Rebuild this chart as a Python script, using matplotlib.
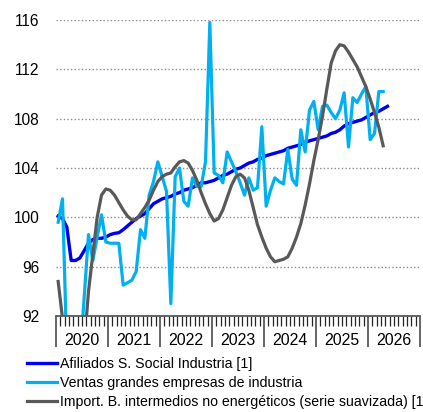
import numpy as np
import matplotlib.pyplot as plt
from matplotlib.transforms import blended_transform_factory

plt.rcParams['font.family'] = ['Liberation Sans', 'DejaVu Sans']

# monthly series, starting January 2020
afiliados = [100.1, 99.9, 99.2, 96.5, 96.5, 96.7, 97.3, 97.9, 98.2, 98.3, 98.3, 98.4,
             98.6, 98.7, 98.75, 99.0, 99.3, 99.6, 99.9, 100.1, 100.3, 100.7, 101.1, 101.3,
             101.5, 101.6, 101.7, 101.9, 102.0, 102.2, 102.3, 102.4, 102.6, 102.8, 102.8, 102.9,
             103.0, 103.2, 103.4, 103.5, 103.7, 103.9, 104.0, 104.2, 104.4, 104.5, 104.7, 104.8,
             105.0, 105.1, 105.2, 105.3, 105.4, 105.6, 105.7, 105.8, 105.9, 106.1, 106.2, 106.3,
             106.4, 106.5, 106.6, 106.8, 106.9, 107.1, 107.4, 107.6, 107.7, 107.8, 107.9, 108.1,
             108.3, 108.5, 108.6, 108.8, 109.0]

ventas = [99.6, 101.5, 89.0, 72.0, 80.0, 88.4, 93.5, 98.6, 96.5, 98.4, 100.2, 98.0,
          97.9, 97.9, 97.9, 94.5, 94.7, 94.9, 95.6, 99.0, 98.3, 101.8, 102.9, 104.5,
          103.3, 102.1, 93.0, 103.3, 104.0, 101.3, 100.9, 103.2, 102.5, 102.5, 104.5, 115.8,
          103.6, 103.4, 102.8, 105.3, 104.5, 103.7, 102.8, 101.8, 103.2, 102.2, 102.4, 107.35,
          100.9, 102.2, 103.2, 102.9, 102.7, 105.5, 103.1, 102.6, 107.1, 105.3, 108.7, 109.4,
          107.1, 109.0, 109.1, 108.5, 108.0, 108.7, 110.1, 105.7, 109.7, 109.3, 110.0, 110.6,
          106.3, 106.8, 110.2, 110.2]

importaciones = [94.8, 91.8, 88.0, 85.0, 84.0, 85.5, 89.5, 94.0, 97.0, 100.0, 101.8, 102.3,
                 102.2, 101.8, 101.2, 100.6, 100.1, 99.8, 99.8, 100.3, 100.8, 101.4, 102.2, 102.9,
                 103.3, 103.5, 103.6, 104.1, 104.5, 104.6, 104.4, 103.8, 103.0, 102.0, 101.1, 100.3,
                 99.7, 99.9, 100.6, 101.6, 102.6, 103.3, 103.5, 103.2, 102.2, 100.8, 99.4, 98.4,
                 97.5, 96.8, 96.4, 96.5, 96.6, 96.8, 97.5, 98.4, 99.5, 101.0, 102.7, 104.6,
                 106.3, 108.2, 110.4, 112.5, 113.5, 114.0, 113.9, 113.4, 112.8, 112.2, 111.4, 110.6,
                 109.6, 108.5, 107.3, 105.8]

years = ['2020', '2021', '2022', '2023', '2024', '2025', '2026']
labels = ['Afiliados S. Social Industria [1]',
          'Ventas grandes empresas de industria',
          'Import. B. intermedios no energéticos (serie suavizada) [1]']

fig = plt.figure(figsize=(4.23, 4.12), dpi=100)
ax = fig.add_axes([56 / 423, 96 / 412, 364 / 423, 296 / 412])

h1, = ax.plot(np.arange(len(afiliados)) + 0.5, afiliados, color='#0000EE', lw=2.4)
h2, = ax.plot(np.arange(len(ventas)) + 0.5, ventas, color='#00B0F0', lw=2.3)
h3, = ax.plot(np.arange(len(importaciones)) + 0.5, importaciones, color='#595959', lw=2.3)

ax.set_xlim(0, 12 * len(years))
ax.set_ylim(92, 116)
ax.set_yticks(np.arange(92, 117, 4))
ax.yaxis.grid(True, linestyle=(0, (1, 1.6)), color='#8c8c8c', lw=1)
ax.tick_params(axis='y', length=0, pad=12, labelsize=11.2)

ax.set_xticks(np.arange(0, 12 * len(years) + 1, 12))
ax.set_xticks(np.arange(0, 12 * len(years) + 1, 1), minor=True)
ax.set_xticklabels([])
ax.tick_params(axis='x', which='major', direction='out', length=22, width=1.3, color='#595959')
ax.tick_params(axis='x', which='minor', direction='out', length=7, width=0.9, color='#262626')

trans = blended_transform_factory(ax.transData, ax.transAxes)
for i, y in enumerate(years):
    ax.text(12 * i + 6, -0.083, y, transform=trans, ha='center', va='center', fontsize=11.4)

for s in ['left', 'right', 'top']:
    ax.spines[s].set_visible(False)
ax.spines['bottom'].set_color('#595959')
ax.spines['bottom'].set_linewidth(1.3)

fig.legend([h1, h2, h3], labels, loc='upper left', bbox_to_anchor=(27 / 423, 55 / 412),
           frameon=False, fontsize=10.2, handlelength=2.15, handletextpad=0.2,
           labelspacing=0.36, borderpad=0, borderaxespad=0)

fig.savefig('out.png', dpi=100)
